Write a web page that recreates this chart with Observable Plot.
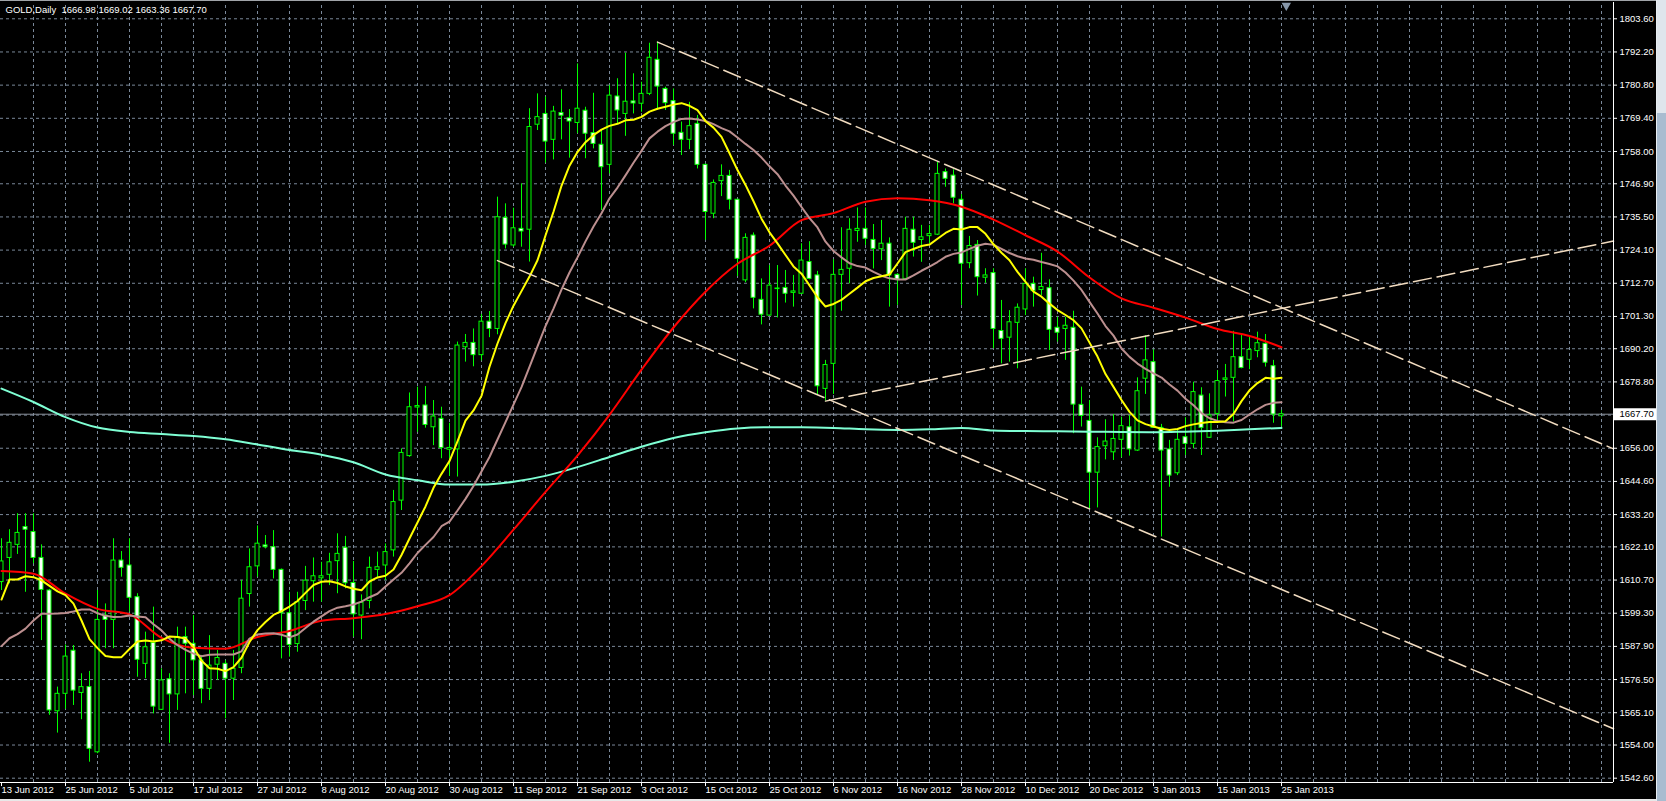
<!DOCTYPE html>
<html><head><meta charset="utf-8">
<script src="https://cdn.jsdelivr.net/npm/d3@7"></script>
<script src="https://cdn.jsdelivr.net/npm/@observablehq/plot@0.6"></script>
<style>
html,body{margin:0;padding:0;background:#000;overflow:hidden;}
#wrap{position:relative;width:1666px;height:801px;background:#000;}
#chart svg{display:block;}
.chrome{position:absolute;}
</style></head>
<body><div id="wrap"><div id="chart"></div>
<div class="chrome" style="left:0;top:0;width:1657px;height:1px;background:#a0a4a8"></div>
<div class="chrome" style="left:1656px;top:0;width:1px;height:801px;background:#e8edf2"></div>
<div class="chrome" style="left:1657px;top:0;width:9px;height:113px;background:#dfe5ec"></div>
<div class="chrome" style="left:1657px;top:113px;width:9px;height:688px;background:#a9bcd0"></div>
<div class="chrome" style="left:0;top:799px;width:1656px;height:2px;background:#e8e8e8"></div>
</div>
<script>
// ---- data ----
const title = "GOLD,Daily  1666.98 1669.02 1663.36 1667.70";
const dateLabels = ["13 Jun 2012","25 Jun 2012","5 Jul 2012","17 Jul 2012","27 Jul 2012","8 Aug 2012","20 Aug 2012","30 Aug 2012","11 Sep 2012","21 Sep 2012","3 Oct 2012","15 Oct 2012","25 Oct 2012","6 Nov 2012","16 Nov 2012","28 Nov 2012","10 Dec 2012","20 Dec 2012","3 Jan 2013","15 Jan 2013","25 Jan 2013"];
const dateBars = [0,8,16,24,32,40,48,56,64,72,80,88,96,104,112,120,128,136,144,152,160];
const priceTicks = [1803.60,1792.20,1780.80,1769.40,1758.00,1746.90,1735.50,1724.10,1712.70,1701.30,1690.20,1678.80,1656.00,1644.60,1633.20,1622.10,1610.70,1599.30,1587.90,1576.50,1565.10,1554.00,1542.60];
const gridPrices = [1803.60,1792.20,1780.80,1769.40,1758.00,1746.90,1735.50,1724.10,1712.70,1701.30,1690.20,1678.80,1667.40,1656.00,1644.60,1633.20,1622.10,1610.70,1599.30,1587.90,1576.50,1565.10,1554.00,1542.60];
const lastPrice = 1667.70;

const open = [1610.0,1618.3,1622.8,1628.9,1627.2,1618.3,1607.1,1565.6,1571.6,1586.4,1571.9,1573.9,1551.5,1598.5,1597.0,1617.4,1615.7,1604.8,1581.9,1589.1,1566.1,1576.6,1571.4,1591.1,1588.8,1583.1,1573.3,1581.6,1581.9,1576.8,1580.5,1605.9,1615.4,1622.6,1622.0,1614.2,1599.3,1588.7,1603.5,1610.3,1611.3,1612.5,1617.2,1621.8,1609.7,1598.5,1603.5,1614.2,1615.7,1620.9,1638.0,1653.3,1670.0,1670.7,1663.2,1666.1,1655.5,1655.6,1690.7,1692.2,1688.0,1699.5,1697.0,1735.2,1725.7,1731.4,1731.1,1767.2,1770.9,1762.0,1771.2,1769.4,1767.8,1772.0,1764.3,1760.3,1753.4,1776.9,1770.9,1775.2,1774.4,1777.8,1789.5,1779.5,1775.3,1764.4,1762.0,1767.5,1753.4,1736.6,1747.8,1749.6,1741.4,1713.7,1729.1,1707.0,1701.6,1710.7,1711.1,1709.4,1709.1,1720.0,1715.4,1676.4,1685.0,1715.6,1717.7,1730.7,1731.4,1727.6,1724.4,1726.3,1715.6,1714.2,1731.1,1727.6,1728.9,1729.4,1750.9,1749.7,1741.4,1719.6,1725.9,1714.6,1716.2,1696.3,1694.0,1699.1,1703.7,1712.5,1710.4,1711.0,1697.4,1697.0,1697.4,1670.9,1665.4,1647.6,1656.7,1654.6,1658.9,1663.2,1655.2,1679.9,1685.6,1663.0,1655.6,1647.4,1659.8,1657.5,1674.1,1659.6,1667.8,1679.5,1680.2,1687.3,1686.4,1689.4,1691.9,1684.2,1666.98];
const high = [1624.9,1628.0,1633.5,1633.5,1633.5,1622.8,1607.5,1573.9,1588.4,1588.2,1578.5,1579.3,1607.1,1602.5,1624.9,1620.5,1624.9,1606.0,1592.8,1601.4,1580.2,1578.5,1594.5,1594.5,1598.5,1584.8,1591.6,1586.5,1583.0,1586.5,1610.6,1621.4,1629.3,1626.0,1627.7,1614.5,1606.5,1606.5,1615.4,1618.3,1616.8,1619.9,1626.6,1625.7,1617.1,1605.6,1618.6,1620.3,1623.1,1641.5,1655.8,1675.0,1677.0,1677.2,1672.4,1670.1,1664.6,1692.5,1695.1,1697.0,1702.0,1703.0,1742.3,1740.0,1738.5,1746.9,1772.7,1777.8,1776.7,1773.5,1779.2,1772.4,1788.1,1773.2,1778.0,1765.2,1780.7,1783.0,1791.8,1784.7,1781.8,1795.2,1795.6,1780.1,1779.5,1768.1,1774.9,1770.4,1753.6,1748.2,1753.4,1751.5,1741.5,1729.7,1730.0,1714.2,1718.8,1718.8,1717.1,1715.4,1726.3,1727.0,1716.8,1686.2,1720.8,1731.8,1734.9,1738.6,1738.6,1732.9,1734.3,1728.3,1716.0,1735.4,1735.4,1732.6,1732.6,1754.3,1752.0,1751.7,1743.2,1728.8,1727.4,1717.7,1717.7,1706.8,1703.3,1705.6,1717.7,1714.8,1723.0,1713.9,1701.0,1701.0,1703.1,1677.0,1672.4,1659.6,1665.8,1667.6,1666.7,1667.3,1680.2,1694.7,1689.8,1664.2,1658.7,1662.7,1666.5,1678.7,1676.8,1674.7,1682.7,1684.8,1696.2,1695.3,1694.2,1695.9,1695.1,1686.2,1669.02];
const low = [1607.1,1609.4,1619.5,1606.5,1616.3,1589.9,1564.2,1558.1,1566.3,1567.6,1562.7,1548.1,1551.0,1587.1,1587.1,1611.7,1599.7,1577.3,1576.8,1564.7,1565.9,1554.6,1565.9,1571.6,1571.0,1568.2,1569.3,1576.2,1563.0,1569.3,1578.5,1601.4,1611.7,1621.4,1611.1,1583.6,1584.2,1585.9,1600.2,1603.1,1603.1,1608.8,1606.0,1607.7,1591.1,1590.2,1600.8,1611.1,1610.5,1618.6,1634.6,1652.9,1661.5,1662.9,1656.9,1652.4,1646.3,1646.1,1685.6,1684.0,1686.0,1694.0,1695.0,1724.5,1725.1,1725.1,1720.0,1765.2,1754.0,1755.1,1762.0,1755.7,1764.1,1755.5,1758.9,1737.7,1750.3,1767.5,1763.2,1770.9,1771.5,1777.2,1772.1,1772.1,1760.1,1756.6,1758.6,1752.0,1727.5,1734.9,1742.5,1737.9,1715.0,1712.9,1703.9,1698.4,1701.3,1700.8,1705.9,1704.5,1708.9,1713.9,1674.1,1672.2,1674.5,1703.1,1712.5,1726.8,1725.7,1717.6,1720.5,1704.5,1705.1,1713.9,1721.7,1719.9,1726.3,1729.1,1745.7,1740.0,1705.1,1717.7,1708.3,1712.7,1690.2,1685.0,1685.6,1683.3,1701.6,1704.5,1708.5,1689.6,1692.5,1686.2,1661.0,1663.3,1634.9,1635.5,1652.0,1651.8,1652.7,1653.3,1654.9,1674.5,1662.9,1625.5,1642.6,1646.6,1653.5,1655.8,1653.5,1659.4,1665.0,1673.6,1665.0,1683.3,1683.0,1687.1,1683.9,1664.6,1663.36];
const close = [1617.1,1623.5,1626.9,1628.0,1618.3,1607.3,1565.9,1571.6,1584.4,1572.7,1573.9,1552.7,1597.0,1597.0,1617.4,1614.9,1604.6,1583.3,1587.6,1567.2,1576.2,1571.4,1591.1,1588.8,1583.1,1573.3,1581.3,1583.9,1576.8,1580.2,1604.3,1615.1,1623.2,1622.0,1614.2,1599.3,1588.4,1603.1,1610.5,1612.0,1612.0,1616.8,1619.7,1609.6,1598.9,1602.9,1614.9,1615.1,1620.3,1637.5,1654.4,1670.1,1670.5,1664.0,1666.9,1656.1,1656.1,1691.3,1692.2,1688.0,1699.5,1697.0,1735.4,1726.0,1731.6,1730.5,1766.4,1769.8,1761.4,1771.7,1770.3,1768.3,1772.7,1764.1,1760.6,1752.6,1777.2,1772.1,1775.1,1774.5,1777.8,1790.2,1780.3,1774.6,1764.1,1762.0,1766.7,1753.4,1737.2,1747.2,1749.6,1741.4,1721.1,1728.3,1707.7,1701.9,1711.9,1710.9,1709.1,1709.9,1720.5,1714.2,1677.3,1684.6,1715.6,1717.3,1731.1,1731.4,1728.0,1724.5,1726.3,1715.4,1713.9,1731.4,1726.6,1728.5,1729.6,1750.3,1748.6,1742.1,1719.4,1725.5,1714.8,1715.4,1697.0,1693.6,1699.3,1704.3,1712.5,1710.0,1711.4,1696.7,1695.7,1698.1,1671.0,1667.1,1647.6,1656.4,1658.3,1659.2,1663.6,1655.6,1675.6,1686.2,1663.0,1655.2,1646.6,1658.9,1657.5,1675.3,1663.0,1667.3,1679.1,1680.0,1687.3,1683.6,1689.8,1692.1,1685.4,1667.6,1667.70];

// moving averages
const maYellow = [1604.0,1610.9,1610.9,1612.0,1611.7,1610.6,1608.7,1606.8,1605.5,1602.6,1596.8,1590.4,1587.3,1584.6,1584.2,1584.2,1587.0,1589.6,1589.9,1589.6,1590.0,1591.3,1591.1,1590.6,1587.7,1583.0,1580.4,1580.2,1579.4,1580.8,1584.0,1589.4,1593.5,1596.3,1598.7,1600.0,1601.6,1603.5,1606.3,1609.0,1610.1,1610.3,1609.7,1608.5,1607.7,1607.2,1610.2,1611.6,1612.2,1614.3,1619.3,1625.0,1630.5,1636.0,1642.4,1647.2,1651.6,1658.4,1665.5,1669.0,1674.0,1684.0,1692.0,1699.0,1705.0,1710.0,1715.0,1720.6,1729.1,1737.3,1746.2,1753.1,1757.8,1761.2,1763.6,1765.5,1766.8,1767.5,1768.7,1768.9,1769.9,1771.7,1772.7,1773.4,1774.1,1774.6,1773.7,1772.2,1768.4,1766.2,1763.0,1757.4,1751.6,1746.5,1740.9,1734.9,1730.2,1726.4,1722.4,1718.5,1716.0,1712.0,1707.9,1704.7,1705.6,1707.0,1709.1,1711.2,1713.4,1714.5,1715.1,1715.7,1719.5,1723.4,1724.5,1725.5,1726.0,1728.0,1730.0,1731.4,1731.2,1732.0,1732.0,1729.7,1726.1,1723.2,1720.6,1716.6,1713.2,1709.8,1708.1,1705.7,1703.5,1701.8,1700.0,1697.2,1692.3,1687.5,1681.5,1677.1,1672.6,1668.5,1665.6,1664.3,1663.5,1662.7,1662.3,1662.6,1663.6,1664.2,1664.7,1665.0,1665.0,1665.3,1667.8,1672.2,1675.9,1678.4,1680.2,1679.9,1680.2];
const maRosy = [1588.0,1590.7,1592.1,1594.0,1596.8,1599.1,1599.1,1599.2,1599.4,1599.9,1600.6,1600.6,1599.3,1598.4,1598.0,1598.1,1598.5,1598.2,1597.9,1595.5,1593.4,1590.5,1588.3,1586.7,1585.4,1584.5,1585.0,1585.1,1585.1,1585.1,1586.2,1590.6,1592.0,1592.3,1592.4,1591.9,1591.0,1592.0,1594.2,1596.4,1598.2,1600.0,1601.2,1601.7,1602.3,1603.3,1604.8,1606.0,1608.5,1610.9,1613.2,1616.4,1620.0,1622.8,1625.5,1629.2,1630.8,1634.6,1638.6,1643.0,1648.0,1653.0,1659.0,1665.0,1671.0,1677.0,1684.0,1691.0,1698.0,1704.0,1710.5,1716.4,1721.6,1727.1,1732.2,1736.8,1741.9,1745.6,1749.8,1754.1,1758.2,1762.5,1764.8,1766.7,1768.1,1769.2,1769.3,1769.0,1768.5,1767.4,1766.0,1764.9,1762.8,1760.6,1758.5,1755.9,1752.9,1750.2,1746.3,1742.8,1738.9,1735.1,1731.9,1727.0,1723.8,1721.6,1719.6,1718.6,1718.1,1716.6,1715.3,1714.4,1714.0,1714.0,1715.4,1717.0,1718.4,1720.0,1721.8,1722.8,1723.3,1724.5,1725.6,1726.3,1725.9,1724.5,1723.1,1722.0,1721.2,1720.8,1720.0,1719.3,1718.5,1716.4,1713.6,1710.4,1706.3,1702.3,1698.0,1694.7,1690.3,1687.4,1685.1,1683.3,1681.7,1680.3,1677.9,1675.8,1673.0,1670.8,1668.1,1666.3,1665.4,1664.9,1664.8,1665.7,1667.6,1669.4,1670.9,1671.6,1671.8];
const maRedBars = [0,4,8,12,16,20,24,28,32,36,40,44,48,52,56,60,64,68,72,76,80,84,88,92,96,100,104,108,112,116,120,124,128,132,136,140,144,148,152,156,160];
const maRed = [1613.8,1612.9,1606.0,1600.8,1598.9,1590.8,1587.4,1587.1,1591.1,1593.2,1596.7,1597.6,1599.0,1601.7,1605.5,1615.5,1628.0,1641.0,1653.5,1667.5,1683.0,1697.5,1709.8,1719.4,1725.6,1734.4,1736.8,1740.7,1741.9,1741.2,1739.0,1734.6,1729.2,1723.6,1714.7,1707.5,1704.3,1700.9,1697.0,1694.6,1690.7];
const maAquaBars = maRedBars;
const maAqua = [1676.5,1671.9,1666.7,1663.1,1661.6,1660.9,1660.2,1659.1,1657.3,1655.4,1653.8,1651.2,1647.0,1645.0,1643.5,1643.5,1644.5,1646.5,1649.5,1653.0,1656.5,1659.5,1661.5,1662.8,1663.2,1663.2,1663.0,1662.5,1662.3,1662.5,1663.0,1662.1,1661.9,1661.8,1661.7,1661.6,1661.5,1661.7,1662.0,1662.5,1663.0];

// hand-drawn trend lines (bar index, price)
const trendUpperBars = [82, 201.5], trendUpperPrices = [1795.6, 1655.8];
const trendLowerBars = [62, 201.5], trendLowerPrices = [1720.5, 1559.6];
const trendRiseBars = [103, 201.5], trendRisePrices = [1672.2, 1727.2];
const shiftMarkerBar = [160.6];

// ---- build ----
const candles = open.map((o, i) => ({i, open: o, high: high[i], low: low[i], close: close[i]}));
const pts = (bars, vals) => bars.map((b, k) => ({x: b, y: vals[k]}));
const yellowPts = pts(maYellow.map((_, i) => i), maYellow);
const rosyPts = pts(maRosy.map((_, i) => i), maRosy);
const redPts = pts(maRedBars, maRed);
const aquaPts = pts(maAquaBars, maAqua);
const dates = dateBars.map((b, k) => ({x: b, label: dateLabels[k]}));
const gridBars = d3.range(4, 201, 4);

const X0 = -0.125, X1 = 201.5, Y0 = 1541.12, Y1 = 1809.2;
const gridColor = "#7a8899";
const trendColor = "#f2dcc0";
const font = "Liberation Sans, Arial, sans-serif";

const chart = Plot.plot({
  width: 1666, height: 801,
  marginLeft: 0, marginRight: 53, marginTop: 2, marginBottom: 19,
  x: {type: "linear", domain: [X0, X1], axis: null},
  y: {type: "linear", domain: [Y0, Y1], axis: null},
  style: {background: "#000", color: "#fff", fontFamily: font, fontSize: "9.5px"},
  marks: [
    Plot.ruleY(gridPrices, {x1: X0, x2: X1, stroke: gridColor, strokeDasharray: "3,3"}),
    Plot.ruleX(gridBars, {y1: Y0, y2: Y1, stroke: gridColor, strokeDasharray: "3,3"}),
    Plot.ruleY([lastPrice], {x1: X0, x2: X1, stroke: "#8c939c"}),
    Plot.ruleX(candles, {x: "i", y1: "low", y2: "high", stroke: "#00ff00"}),
    Plot.rect(candles, {x1: d => d.i - 0.25, x2: d => d.i + 0.25, y1: "open", y2: "close",
      fill: d => d.close >= d.open ? "#000" : "#fff", stroke: "#00ff00", strokeWidth: 1}),
    Plot.line(aquaPts, {x: "x", y: "y", stroke: "#7fffd4", strokeWidth: 2, curve: "monotone-x"}),
    Plot.line(redPts, {x: "x", y: "y", stroke: "#ff0000", strokeWidth: 2, curve: "monotone-x"}),
    Plot.line(rosyPts, {x: "x", y: "y", stroke: "#bc8f8f", strokeWidth: 2}),
    Plot.line(yellowPts, {x: "x", y: "y", stroke: "#ffff00", strokeWidth: 2}),
    Plot.line(pts(trendUpperBars, trendUpperPrices), {x: "x", y: "y", stroke: trendColor, strokeDasharray: "18,6"}),
    Plot.line(pts(trendLowerBars, trendLowerPrices), {x: "x", y: "y", stroke: trendColor, strokeDasharray: "18,6"}),
    Plot.line(pts(trendRiseBars, trendRisePrices), {x: "x", y: "y", stroke: trendColor, strokeDasharray: "18,6"}),
    // frame
    Plot.ruleX([X1], {y1: Y0, y2: Y1, stroke: "#fff"}),
    Plot.ruleY([Y0], {x1: X0, x2: X1, stroke: "#fff"}),
    // right price axis
    Plot.ruleY(gridPrices, {x1: X1, x2: X1 + 0.5, stroke: "#fff"}),
    Plot.text(priceTicks, {x: X1, y: d => d, text: d => d.toFixed(2), dx: 6, textAnchor: "start", lineAnchor: "middle", fill: "#fff", fontSize: 9.5}),
    Plot.ruleY([lastPrice], {x1: X1 + 0.1, x2: X1 + 5.5, stroke: "#fff", strokeWidth: 12}),
    Plot.text([lastPrice], {x: X1, y: d => d, text: d => d.toFixed(2), dx: 6, textAnchor: "start", lineAnchor: "middle", fill: "#000", fontSize: 9.5}),
    // bottom date axis
    Plot.ruleX(dates, {x: "x", y: Y0, dy: 0, stroke: "#fff", insetBottom: 0, y1: Y0, y2: Y0 - 1.4}),
    Plot.text(dates, {x: "x", y: Y0, text: "label", dx: 0, dy: 4, textAnchor: "start", lineAnchor: "top", fill: "#fff", fontSize: 9.5}),
    // title
    Plot.text([title], {frameAnchor: "top-left", dx: 5, dy: 4, lineAnchor: "top", textAnchor: "start", fill: "#fff", fontSize: 9.5}),
    // chart shift marker
    Plot.dot(shiftMarkerBar, {x: d => d, y: Y1, dy: 3, symbol: "triangle", r: 3.5, rotate: 180, fill: "#8696a8", stroke: "none"})
  ]
});
chart.querySelectorAll("text").forEach(t => t.setAttribute("xml:space", "preserve"));
document.getElementById("chart").appendChild(chart);
</script></body></html>
